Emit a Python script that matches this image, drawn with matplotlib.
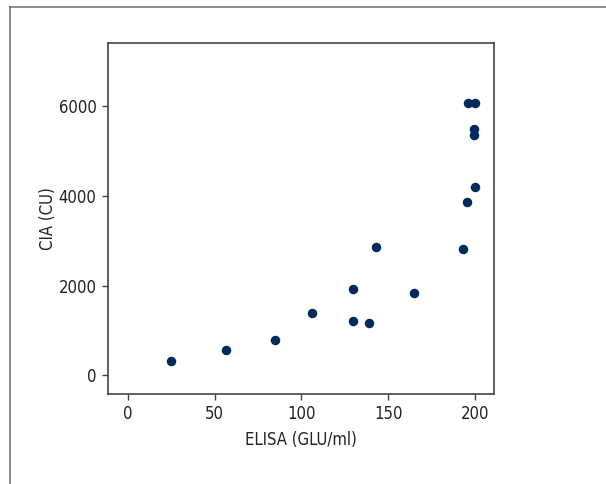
import matplotlib
matplotlib.use("Agg")
import matplotlib.pyplot as plt
from matplotlib.lines import Line2D

plt.rcParams['font.family'] = ['DejaVu Sans']
plt.rcParams['font.stretch'] = 'condensed'

# ELISA (GLU/ml) vs CIA (CU)
elisa = [25, 56.5, 85, 106, 129.7, 129.5, 139, 143, 165, 193, 195.5, 200, 199.5, 199.5, 196, 200]
cia = [310, 570, 790, 1395, 1930, 1200, 1165, 2850, 1830, 2820, 3870, 4190, 5360, 5480, 6070, 6070]

xticks = [0, 50, 100, 150, 200]
yticks = [0, 2000, 4000, 6000]

fig = plt.figure(figsize=(6.06, 4.84), dpi=100)
ax = fig.add_axes([107.7 / 606, 1 - 393.7 / 484, (493.7 - 107.7) / 606, (393.7 - 43.3) / 484])

ax.scatter(elisa, cia, s=34, color='#002a5c', zorder=3)

ax.set_xlim(-11.5, 210.7)
ax.set_ylim(-410, 7396)
ax.set_xticks(xticks)
ax.set_yticks(yticks)
ax.tick_params(direction='out', length=4.5, width=1, color='#444444',
               labelsize=12, labelcolor='#222222')
for sp in ax.spines.values():
    sp.set_color('#444444')
    sp.set_linewidth(1.2)

ax.set_xlabel('ELISA (GLU/ml)', fontsize=12, color='#222222', labelpad=6)
ax.set_ylabel('CIA (CU)', fontsize=12, color='#222222', labelpad=1)

# outer panel frame (left and top edges)
fig.add_artist(Line2D([10 / 606, 10 / 606], [0, 1 - 7 / 484], transform=fig.transFigure,
                      color='#777777', lw=1.2))
fig.add_artist(Line2D([10 / 606, 1], [1 - 7 / 484, 1 - 7 / 484], transform=fig.transFigure,
                      color='#777777', lw=1.2))

fig.savefig('out.png', dpi=100)
